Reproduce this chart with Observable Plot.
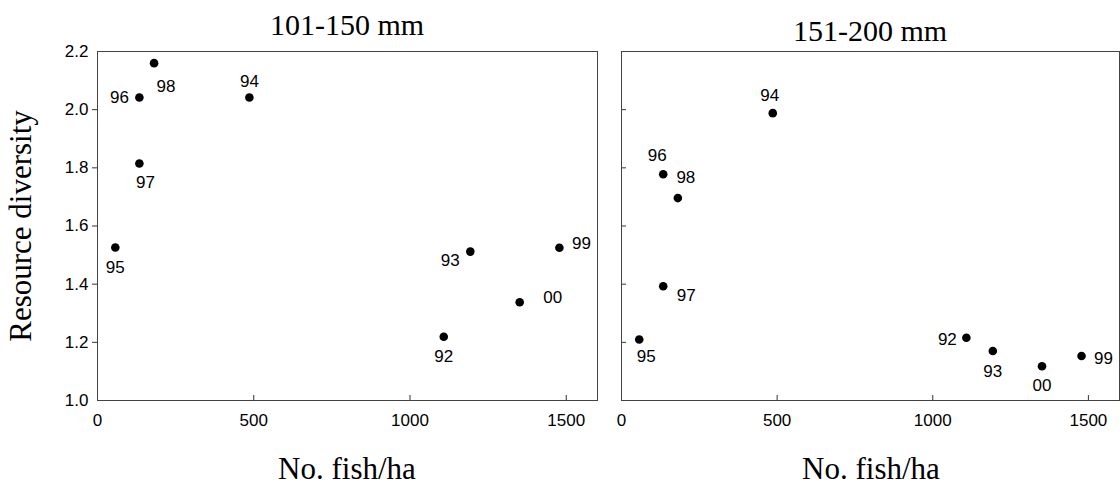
<!DOCTYPE html>
<html>
<head>
<meta charset="utf-8">
<script src="https://cdn.jsdelivr.net/npm/d3@7"></script>
<script src="https://cdn.jsdelivr.net/npm/@observablehq/plot@0.6"></script>
<style>
  body { margin: 0; background: #fff; }
  #wrap { position: relative; width: 1120px; height: 491px; overflow: hidden; background: #fff; }
  .panel { position: absolute; top: 0; }
  .serif { position: absolute; font-family: "Liberation Serif", "Times New Roman", serif; color: #000; white-space: nowrap; transform: translate(-50%, -50%); line-height: 1; }
  .title { font-size: 30px; }
  .xlabel { font-size: 31px; }
  .ylabel { font-size: 31px; transform: translate(-50%, -50%) rotate(-90deg); }
</style>
</head>
<body>
<div id="wrap"></div>
<script>
// ---- data ----
const years = ["92", "93", "94", "95", "96", "97", "98", "99", "00"];
const fishPerHa = [1108, 1193, 486, 57, 134, 134, 181, 1478, 1351];
const diversity101to150 = [1.219, 1.512, 2.042, 1.526, 2.042, 1.815, 2.16, 1.525, 1.338];
const diversity151to200 = [1.216, 1.17, 1.988, 1.21, 1.778, 1.393, 1.696, 1.153, 1.118];
const panelTitles = ["101-150 mm", "151-200 mm"];
const xTicks = [0, 500, 1000, 1500];
const yTicks = [1.0, 1.2, 1.4, 1.6, 1.8, 2.0, 2.2];
const xLabel = "No. fish/ha";
const yLabel = "Resource diversity";

// ---- label placement (pixel offsets; styling only) ----
const offsetsLeft = {"92": [0, 20], "93": [-20, 9], "94": [0, -16], "95": [0, 20], "96": [-20, 0], "97": [6, 19], "98": [12, 23], "99": [22, -4], "00": [33, -5]};
const offsetsRight = {"92": [-19, 2], "93": [0, 20], "94": [-3, -18], "95": [7, 17], "96": [-6, -19], "97": [23, 9], "98": [8, -21], "99": [22, 3], "00": [0, 19]};

const wrap = document.getElementById("wrap");
const H = 491, mTop = 51, mBottom = 91;
const plotH = H - mTop - mBottom;

function makePanel(values, offsets, opt) {
  const rows = years.map((yr, i) => ({year: yr, x: fishPerHa[i], y: values[i]}));
  const plotW = opt.width - opt.marginLeft - opt.marginRight;
  const inner = yTicks.filter(v => v > yTicks[0] && v < yTicks[yTicks.length - 1]);
  const marks = [
    Plot.axisX(xTicks, {tickSize: 0, tickPadding: 13, fontSize: 17, label: null, tickFormat: d => String(d)}),
    Plot.tickX(xTicks.filter(v => v > 0), {x: d => d, stroke: "#333", insetTop: plotH - 5}),
    Plot.tickY(inner, {y: d => d, stroke: "#333", insetRight: plotW - 5, dx: opt.yLabels ? -5 : 0}),
    Plot.dot(rows, {x: "x", y: "y", r: 4.3, fill: "black", stroke: "none"}),
    ...rows.map(r => Plot.text([r], {x: "x", y: "y", text: "year", dx: offsets[r.year][0], dy: offsets[r.year][1], fontSize: 17, fill: "black"})),
    Plot.frame({stroke: "#444"})
  ];
  if (opt.yLabels) {
    marks.unshift(Plot.axisY(yTicks, {tickSize: 0, tickPadding: 9, fontSize: 17, label: null, tickFormat: d3.format(".1f")}));
  }
  const svg = Plot.plot({
    width: opt.width,
    height: H,
    marginLeft: opt.marginLeft,
    marginRight: opt.marginRight,
    marginTop: mTop,
    marginBottom: mBottom,
    x: {domain: [0, 1600]},
    y: {domain: [1.0, 2.2], axis: opt.yLabels ? undefined : null},
    style: {fontFamily: "'Liberation Sans', Arial, sans-serif", fontSize: "17px", color: "#000", background: "transparent", overflow: "visible"},
    marks
  });
  svg.classList.add("panel");
  svg.style.left = opt.left + "px";
  wrap.appendChild(svg);
}

makePanel(diversity101to150, offsetsLeft, {left: 0, width: 600, marginLeft: 97, marginRight: 3, yLabels: true});
makePanel(diversity151to200, offsetsRight, {left: 600, width: 520, marginLeft: 21, marginRight: 1, yLabels: false});

function addText(cls, text, x, y) {
  const d = document.createElement("div");
  d.className = "serif " + cls;
  d.textContent = text;
  d.style.left = x + "px";
  d.style.top = y + "px";
  wrap.appendChild(d);
}
addText("title", panelTitles[0], 347, 25);
addText("title", panelTitles[1], 870, 31);
addText("xlabel", xLabel, 347, 468);
addText("xlabel", xLabel, 871, 468);
addText("ylabel", yLabel, 20, 226);
</script>
</body>
</html>
